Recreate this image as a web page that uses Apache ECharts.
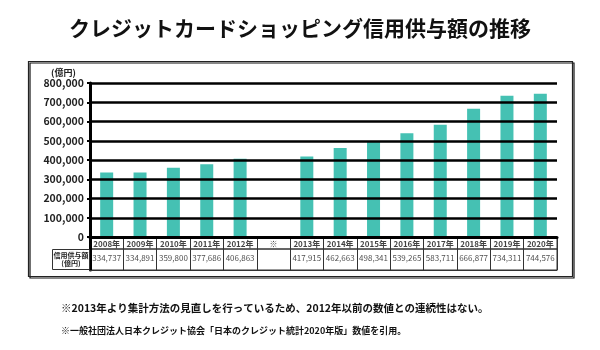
<!DOCTYPE html>
<html>
<head>
<meta charset="utf-8">
<script src="https://cdn.jsdelivr.net/npm/echarts@6/dist/echarts.min.js"></script>
<style>
  html, body { margin: 0; padding: 0; background: #fff; }
  #chart { width: 600px; height: 350px; }
</style>
</head>
<body>
<div id="chart"></div>
<script>
// years (※ marks the break in the series)
const categories = ['2008年', '2009年', '2010年', '2011年', '2012年', '※',
  '2013年', '2014年', '2015年', '2016年', '2017年', '2018年', '2019年', '2020年'];
// 信用供与額 (億円)
const values = [334737, 334891, 359800, 377686, 406863, null,
  417915, 462663, 498341, 539265, 583711, 666877, 734311, 744576];
const yTicks = [0, 100000, 200000, 300000, 400000, 500000, 600000, 700000, 800000];

const FONT = '"Noto Sans CJK JP", "Noto Sans", sans-serif';
const fmt = v => (v == null ? '' : v.toLocaleString('en-US'));

const chart = echarts.init(document.getElementById('chart'), null, { renderer: 'canvas' });

const plotLeft = 90, plotRight = 43;

chart.setOption({
  animation: false,
  textStyle: { fontFamily: FONT },
  title: [
    {
      text: 'クレジットカードショッピング信用供与額の推移',
      left: 'center',
      top: 13,
      textStyle: { fontSize: 21, fontWeight: 'bold', color: '#111', fontFamily: FONT }
    },
    {
      text: '(億円)',
      left: 46,
      top: 63,
      textStyle: { fontSize: 9, fontWeight: 'bold', color: '#222', fontFamily: FONT }
    },
    {
      text: '※2013年より集計方法の見直しを行っているため、2012年以前の数値との連続性はない。',
      left: 56,
      top: 298,
      textStyle: { fontSize: 10.5, fontWeight: 'bold', color: '#111', fontFamily: FONT }
    },
    {
      text: '※一般社団法人日本クレジット協会「日本のクレジット統計2020年版」数値を引用。',
      left: 56,
      top: 321,
      textStyle: { fontSize: 9, fontWeight: 'bold', color: '#111', fontFamily: FONT }
    }
  ],
  graphic: [
    {
      type: 'rect',
      shape: { x: 28.5, y: 61.5, width: 544, height: 215 },
      style: { fill: 'none', stroke: '#222', lineWidth: 1.2, shadowColor: '#111', shadowOffsetX: 1.5, shadowOffsetY: 1.5, shadowBlur: 0 },
      z: 0
    },
    {
      type: 'rect',
      shape: { x: 52.5, y: 249.5, width: 37, height: 20 },
      style: { fill: 'none', stroke: '#333', lineWidth: 1 },
      z: 1
    },
    {
      type: 'text',
      x: 71,
      y: 259.5,
      style: {
        text: '信用供与額\n(億円)',
        font: 'bold 7px ' + FONT,
        fill: '#222',
        align: 'center',
        verticalAlign: 'middle',
        lineHeight: 8
      },
      z: 2
    }
  ],
  grid: [
    { left: plotLeft, right: plotRight, top: 83, height: 154 },
    { left: plotLeft, right: plotRight, top: 238, height: 11, show: true, borderColor: '#333', borderWidth: 1 },
    { left: plotLeft, right: plotRight, top: 249, height: 21, show: true, borderColor: '#333', borderWidth: 1 }
  ],
  xAxis: [
    {
      gridIndex: 0,
      type: 'category',
      data: categories,
      axisLine: { lineStyle: { color: '#000', width: 3 } },
      axisTick: { show: false },
      axisLabel: { show: false },
      z: 5
    },
    {
      gridIndex: 1,
      type: 'category',
      data: categories,
      axisLine: { show: false },
      axisTick: { show: false },
      axisLabel: { show: false },
      splitLine: { show: true, interval: 0, lineStyle: { color: '#333', width: 1 } }
    },
    {
      gridIndex: 2,
      type: 'category',
      data: categories,
      axisLine: { lineStyle: { color: '#333', width: 1 } },
      axisTick: { show: false },
      axisLabel: { show: false },
      splitLine: { show: true, interval: 0, lineStyle: { color: '#333', width: 1 } }
    }
  ],
  yAxis: [
    {
      gridIndex: 0,
      type: 'value',
      min: 0,
      max: 800000,
      interval: 100000,
      axisLine: { show: true, lineStyle: { color: '#000', width: 3 } },
      axisTick: { show: true, length: 3, lineStyle: { color: '#000', width: 2 } },
      axisLabel: {
        margin: 6,
        fontSize: 10.5,
        fontWeight: 'bold',
        color: '#222',
        fontFamily: FONT,
        formatter: v => (yTicks.includes(v) ? fmt(v) : '')
      },
      splitLine: { lineStyle: { color: '#000', width: 2.5 } },
      z: 5
    },
    {
      gridIndex: 1,
      type: 'value',
      min: 0,
      max: 1,
      axisLine: { show: true, lineStyle: { color: '#000', width: 3 } },
      axisTick: { show: false },
      axisLabel: { show: false },
      splitLine: { show: false }
    },
    {
      gridIndex: 2,
      type: 'value',
      min: 0,
      max: 1,
      axisLine: { show: true, lineStyle: { color: '#000', width: 3 } },
      axisTick: { show: false },
      axisLabel: { show: false },
      splitLine: { show: false }
    }
  ],
  series: [
    {
      name: '信用供与額',
      type: 'bar',
      xAxisIndex: 0,
      yAxisIndex: 0,
      data: values,
      barWidth: 13,
      itemStyle: { color: '#45c1b3' },
      z: 3
    },
    {
      name: 'header',
      type: 'scatter',
      xAxisIndex: 1,
      yAxisIndex: 1,
      symbolSize: 1,
      itemStyle: { color: 'transparent' },
      data: categories.map((c, i) => [i, 0.45]),
      label: {
        show: true,
        position: 'inside',
        formatter: p => categories[p.dataIndex],
        fontSize: 8,
        fontWeight: 'bold',
        color: '#111',
        fontFamily: FONT
      },
      silent: true
    },
    {
      name: 'values',
      type: 'scatter',
      xAxisIndex: 2,
      yAxisIndex: 2,
      symbolSize: 1,
      itemStyle: { color: 'transparent' },
      data: values.map((v, i) => [i, 0.55]),
      label: {
        show: true,
        position: 'inside',
        formatter: p => fmt(values[p.dataIndex]),
        fontSize: 8,
        fontWeight: 'normal',
        color: '#222',
        fontFamily: FONT
      },
      silent: true
    }
  ]
});
</script>
</body>
</html>
